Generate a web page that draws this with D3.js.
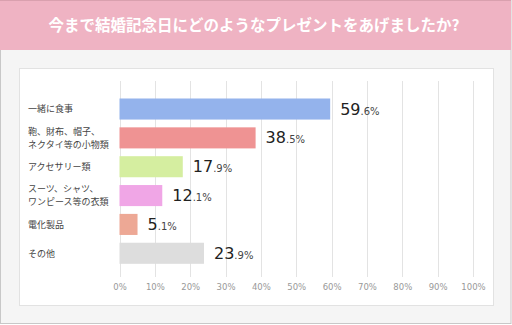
<!DOCTYPE html>
<html><head><meta charset="utf-8">
<script src="https://cdn.jsdelivr.net/npm/d3@7"></script>
<style>html,body{margin:0;padding:0;background:#fff;}svg{display:block;}</style>
</head><body>
<svg id="c" width="512" height="325"></svg>
<script>
const title = "今まで結婚記念日にどのようなプレゼントをあげましたか?";
const categories = [["一緒に食事"],["鞄、財布、帽子、","ネクタイ等の小物類"],["アクセサリー類"],["スーツ、シャツ、","ワンピース等の衣類"],["電化製品"],["その他"]];
const values = [59.6, 38.5, 17.9, 12.1, 5.1, 23.9];
const colors = ["#94b3ec","#ef9393","#d5eea0","#f0a6e6","#eda895","#dddddd"];
const ticks = [0,10,20,30,40,50,60,70,80,90,100];

const svg = d3.select("#c");
const W = 512, H = 325;
svg.append("rect").attr("x",0.5).attr("y",0.5).attr("width",W-1.5).attr("height",H-2).attr("fill","#f5f5f5").attr("stroke","#c8c8c8");
svg.append("rect").attr("x",0).attr("y",0).attr("width",W-1).attr("height",50).attr("fill","#efb3c3");
svg.append("line").attr("x1",0).attr("x2",W-1).attr("y1",0.5).attr("y2",0.5).attr("stroke","#d9a0ae");
svg.append("text").attr("x",254).attr("y",31).attr("text-anchor","middle")
  .attr("font-family","'Noto Sans CJK JP'").attr("font-weight","bold").attr("font-size",15.5)
  .attr("fill","#fff").text(title);
svg.append("rect").attr("x",19.5).attr("y",68.5).attr("width",474).attr("height",237).attr("fill","#fff").attr("stroke","#e2e2e2");

const x = d3.scaleLinear().domain([0,100]).range([119.5,473]);
const idx = d3.range(categories.length);
const y = d3.scaleBand().domain(idx).range([94.6,267.7]).paddingInner(0.27).paddingOuter(0.135);

const g = svg.append("g");
g.selectAll("line.grid").data(ticks).join("line").attr("class","grid")
  .attr("x1",d=>Math.round(x(d))+0.5).attr("x2",d=>Math.round(x(d))+0.5)
  .attr("y1",81).attr("y2",277).attr("stroke","#e3e3e3");

const axis = d3.axisBottom(x).tickValues(ticks).tickSize(0).tickFormat(d=>d+"%");
const ag = svg.append("g").attr("transform","translate(0,281)").call(axis);
ag.select(".domain").remove();
ag.selectAll("text").attr("font-family","'DejaVu Sans'").attr("font-size",8.5).attr("fill","#999");

g.selectAll("rect.bar").data(values).join("rect").attr("class","bar")
  .attr("x",x(0)).attr("y",(d,i)=>y(i)).attr("height",y.bandwidth())
  .attr("width",d=>x(d)-x(0)).attr("fill",(d,i)=>colors[i]);

const vl = g.selectAll("text.val").data(values).join("text").attr("class","val")
  .attr("x",d=>x(d)+10).attr("y",(d,i)=>y(i)+y.bandwidth()/2+5.5)
  .attr("font-family","'DejaVu Sans'").attr("fill","#222");
vl.append("tspan").attr("font-size",16).text(d=>String(d).split(".")[0]);
vl.append("tspan").attr("font-size",10).attr("fill","#444").text(d=>"."+String(d).split(".")[1]+"%");

const lh = 13.2;
const cl = g.selectAll("text.cat").data(categories).join("text").attr("class","cat")
  .attr("font-family","'Noto Sans CJK JP'").attr("font-size",9).attr("fill","#444")
  .attr("x",28).attr("y",(d,i)=>y(i)+y.bandwidth()/2 - (d.length-1)*lh/2 + 3.3);
cl.selectAll("tspan").data(d=>d).join("tspan").attr("x",28).attr("dy",(d,i)=>i?lh:0).text(d=>d);
</script>
</body></html>
